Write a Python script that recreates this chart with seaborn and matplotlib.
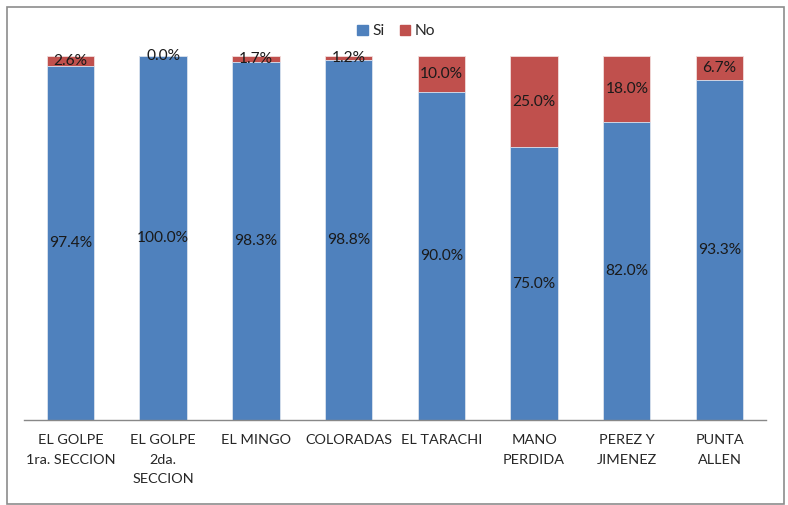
import matplotlib.pyplot as plt
import matplotlib.patches as mpatches
import pandas as pd
import seaborn as sns

localidades = [
    "EL GOLPE\n1ra. SECCION",
    "EL GOLPE\n2da.\nSECCION",
    "EL MINGO",
    "COLORADAS",
    "EL TARACHI",
    "MANO\nPERDIDA",
    "PEREZ Y\nJIMENEZ",
    "PUNTA\nALLEN",
]
si = [97.4, 100.0, 98.3, 98.8, 90.0, 75.0, 82.0, 93.3]
no = [2.6, 0.0, 1.7, 1.2, 10.0, 25.0, 18.0, 6.7]

df = pd.DataFrame({"loc": localidades, "Si": si, "No": no})
df["total"] = df["Si"] + df["No"]

sns.set_style("white")
plt.rcParams["font.family"] = ["Lato", "DejaVu Sans"]

blue = "#4F81BD"
red = "#C0504D"
fs = 11.2

fig = plt.figure(figsize=(7.88, 5.05), dpi=100)
ax = fig.add_axes([0.0305, 0.168, 0.9415, 0.721])

# red bar = full stack, blue drawn over it
sns.barplot(data=df, x="loc", y="total", color=red, width=0.51,
            saturation=1, edgecolor="#f2dcdb", linewidth=0.6, ax=ax)
sns.barplot(data=df, x="loc", y="Si", color=blue, width=0.51,
            saturation=1, edgecolor="#dce6f2", linewidth=0.6, ax=ax)

for i, row in df.iterrows():
    ax.text(i, row["Si"] / 2, f"{row['Si']:.1f}%", ha="center", va="center",
            fontsize=fs, color="#1a1a1a")
    ax.text(i, row["Si"] + row["No"] / 2, f"{row['No']:.1f}%", ha="center",
            va="center", fontsize=fs, color="#1a1a1a")

ax.set_ylim(0, 100)
ax.set_xlim(-0.5, len(localidades) - 0.5)
ax.set_xlabel("")
ax.set_ylabel("")
ax.set_yticks([])
ax.tick_params(axis="x", length=0, pad=10, labelsize=10.4)
for lbl in ax.get_xticklabels():
    lbl.set_linespacing(1.75)
    lbl.set_va("top")
for s in ["top", "left", "right"]:
    ax.spines[s].set_visible(False)
ax.spines["bottom"].set_color("#888888")
ax.spines["bottom"].set_linewidth(1)

handles = [mpatches.Patch(color=blue, label="Si"),
           mpatches.Patch(color=red, label="No")]
fig.legend(handles=handles, loc="center", bbox_to_anchor=(0.503, 0.938), ncol=2,
           frameon=False, fontsize=fs, handlelength=0.65, handleheight=0.65,
           handletextpad=0.3, columnspacing=1.0)

fig.add_artist(mpatches.Rectangle((7 / 788, 1 / 505), 777 / 788, 497 / 505,
                                  transform=fig.transFigure, fill=False,
                                  edgecolor="#8c8c8c", linewidth=1.2))

fig.savefig("out.png", dpi=100)
